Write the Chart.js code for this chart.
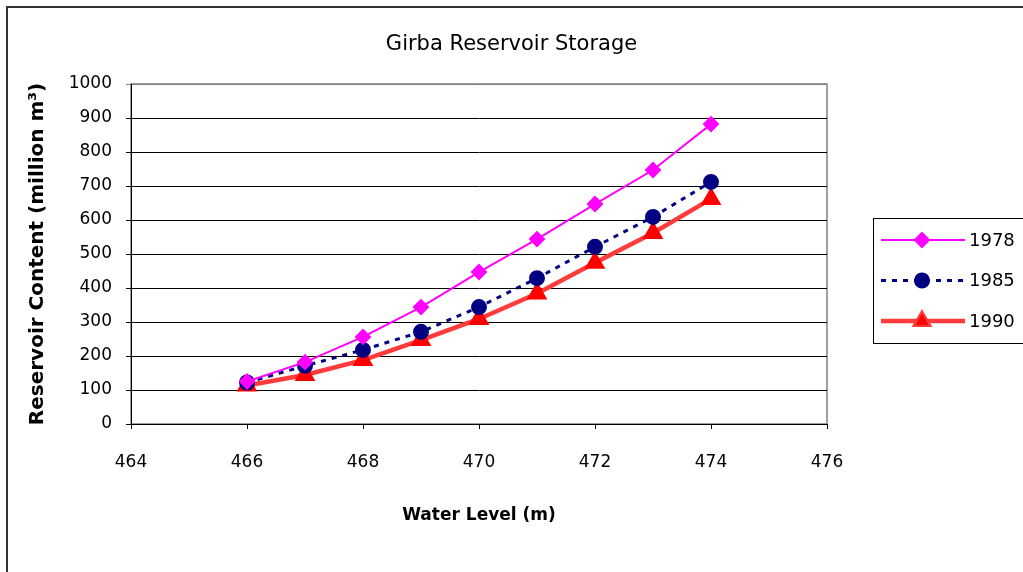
<!DOCTYPE html>
<html lang="en">
<head>
  <meta charset="UTF-8">
  <title>Girba Reservoir Storage</title>
  <script src="https://cdn.jsdelivr.net/npm/chart.js"></script>
  <style>
    body { margin: 0; background: #fff; }
  </style>
</head>
<body>
  <canvas id="storageChart" style="width: 1023px; height: 572px;"></canvas>
  <script>
    // Data
    var levels = [466, 467, 468, 469, 470, 471, 472, 473, 474];
    var y1978 = [125, 182, 256, 344, 447, 544, 647, 747, 882];
    var y1985 = [122, 171, 218, 271, 344, 429, 521, 609, 712];
    var y1990 = [113, 144, 188, 247, 309, 384, 474, 562, 662];
    var seriesNames = ['1978', '1985', '1990'];

    var FONT = 'DejaVu Sans';

    function toPoints(values) {
      return values.map(function (v, i) { return { x: levels[i], y: v }; });
    }

    // frame, plot border and legend box
    var decorations = {
      id: 'decorations',
      beforeDraw: function (chart) {
        var ctx = chart.ctx;
        ctx.save();
        ctx.fillStyle = '#fff';
        ctx.fillRect(0, 0, chart.width, chart.height);
        ctx.strokeStyle = '#333';
        ctx.lineWidth = 2;
        ctx.strokeRect(7, 7, chart.width + 20, chart.height + 20);
        var a = chart.chartArea;
        ctx.strokeStyle = '#808080';
        ctx.lineWidth = 1.5;
        ctx.strokeRect(a.left, a.top, a.right - a.left, a.bottom - a.top);
        ctx.restore();
      },
      afterDraw: function (chart) {
        var ctx = chart.ctx;
        ctx.save();
        ctx.strokeStyle = '#000';
        ctx.lineWidth = 1;
        ctx.strokeRect(873.5, 218.5, 160, 125);
        chart.data.datasets.forEach(function (ds, i) {
          var y = 240 + i * 40.5;
          ctx.beginPath();
          ctx.strokeStyle = ds.borderColor;
          ctx.lineWidth = ds.borderWidth;
          ctx.setLineDash(ds.borderDash || []);
          ctx.moveTo(881, y);
          ctx.lineTo(965, y);
          ctx.stroke();
          ctx.setLineDash([]);
          Chart.helpers.drawPoint(ctx, {
            pointStyle: ds.pointStyle,
            radius: ds.pointRadius,
            borderWidth: 1
          }, 922, y);
          ctx.fillStyle = ds.pointBackgroundColor;
          ctx.fill();
          ctx.fillStyle = '#000';
          ctx.font = '18px ' + FONT;
          ctx.textBaseline = 'middle';
          ctx.fillText(ds.label, 969, y + 1);
        });
        ctx.restore();
      }
    };

    var config = {
      type: 'line',
      data: {
        datasets: [
          {
            label: seriesNames[0],
            data: toPoints(y1978),
            borderColor: '#FF00FF',
            backgroundColor: '#FF00FF',
            pointBackgroundColor: '#FF00FF',
            pointBorderColor: '#FF00FF',
            borderWidth: 2,
            pointStyle: 'rectRot',
            pointRadius: 7,
            fill: false
          },
          {
            label: seriesNames[1],
            data: toPoints(y1985),
            borderColor: '#000080',
            backgroundColor: '#000080',
            pointBackgroundColor: '#000080',
            pointBorderColor: '#000080',
            borderWidth: 3,
            borderDash: [5, 6],
            pointStyle: 'circle',
            pointRadius: 6.5,
            fill: false
          },
          {
            label: seriesNames[2],
            data: toPoints(y1990),
            borderColor: '#FF3b3b',
            backgroundColor: '#FF0000',
            pointBackgroundColor: '#FF0000',
            pointBorderColor: '#FF0000',
            borderWidth: 4.5,
            pointStyle: 'triangle',
            pointRadius: 7.5,
            fill: false
          }
        ]
      },
      options: {
        responsive: false,
        animation: false,
        layout: { padding: { left: 0, right: 0, top: 0, bottom: 0 } },
        plugins: {
          legend: { display: false },
          tooltip: { enabled: false },
          title: {
            display: true,
            text: 'Girba Reservoir Storage',
            color: '#000',
            font: { family: FONT, size: 21, weight: 'normal', lineHeight: 1.2 },
            padding: { top: 32, bottom: 26.8 }
          }
        },
        scales: {
          x: {
            type: 'linear',
            min: 464,
            max: 476,
            border: { color: '#000', width: 1 },
            grid: { drawOnChartArea: false, color: '#000', tickLength: 5 },
            ticks: {
              stepSize: 2,
              padding: 23,
              color: '#000',
              font: { family: FONT, size: 17 },
              callback: function (v) { return String(v); }
            },
            title: {
              display: true,
              text: 'Water Level (m)',
              color: '#000',
              font: { family: FONT, size: 17, weight: 'bold', lineHeight: 1.2 },
              padding: { top: 0, bottom: 46 }
            },
            afterFit: function (s) { s.height = 148; }
          },
          y: {
            min: 0,
            max: 1000,
            border: { color: '#000', width: 1 },
            grid: {
              color: function (c) { return c.tick && c.tick.value === 1000 ? '#808080' : '#000'; },
              tickLength: 5
            },
            ticks: {
              stepSize: 100,
              padding: 14,
              color: '#000',
              font: { family: FONT, size: 17 },
              callback: function (v) { return String(v); }
            },
            title: {
              display: true,
              text: 'Reservoir Content (million m\u00B3)',
              color: '#000',
              font: { family: FONT, size: 20, weight: 'bold', lineHeight: 1.2 },
              padding: { top: 26, bottom: 0 }
            },
            afterFit: function (s) { s.width = 131; }
          },
          spacer: {
            position: 'right',
            display: true,
            grid: { display: false },
            border: { display: false },
            ticks: { display: false },
            afterFit: function (s) { s.width = 196; }
          }
        }
      },
      plugins: [decorations]
    };

    var storageChart = new Chart(document.getElementById('storageChart'), config);
  </script>
</body>
</html>
